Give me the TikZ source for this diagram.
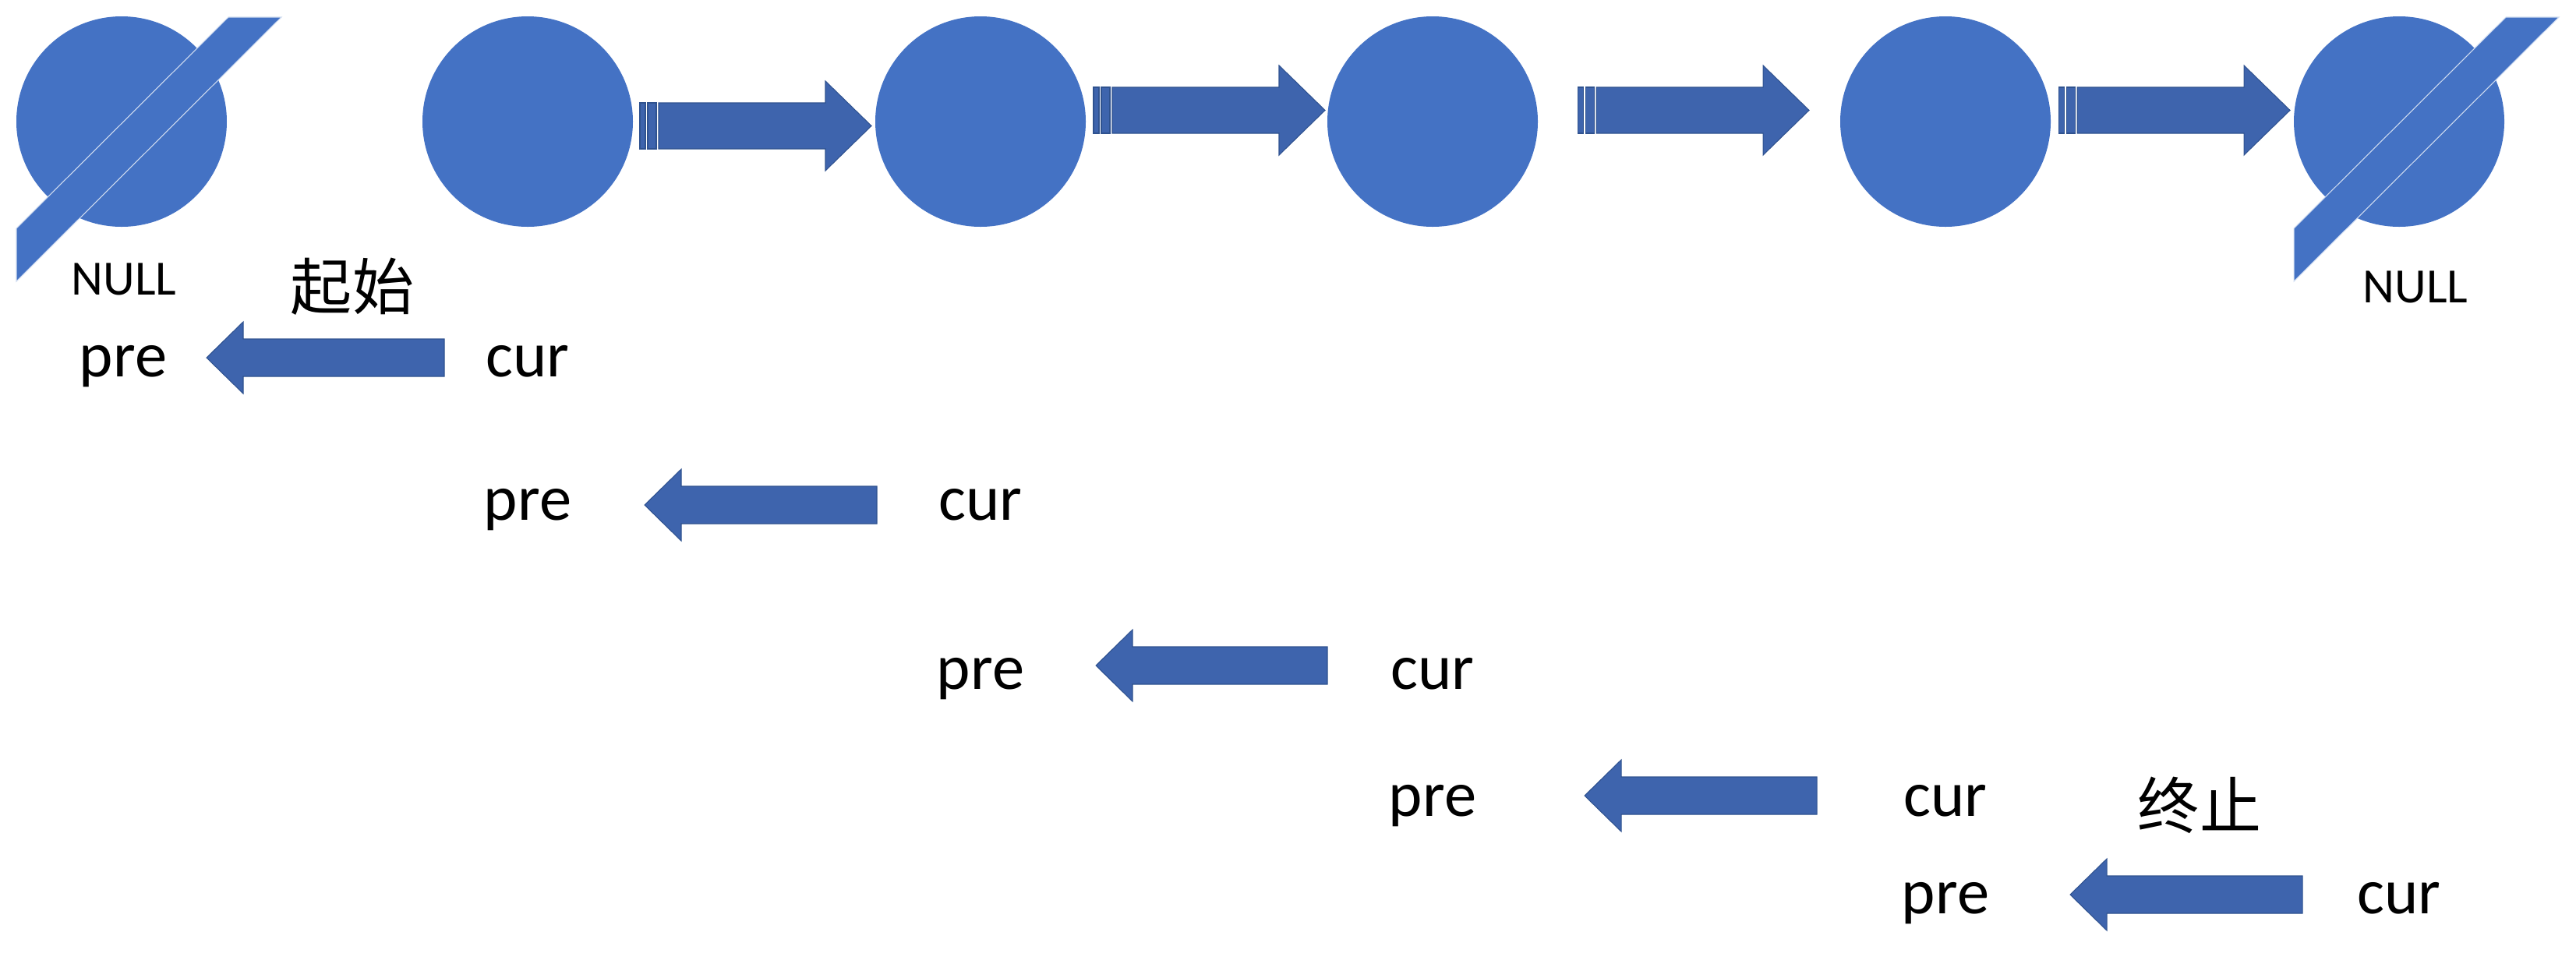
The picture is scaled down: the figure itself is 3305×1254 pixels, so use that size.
\documentclass[tikz,border=0pt]{standalone}
\usepackage{fontspec}
\usepackage{tikz}
\usepackage{xcolor}
\setmainfont{Carlito}
\newfontfamily\cjk{Noto Sans CJK SC}
\definecolor{nodeblue}{RGB}{68,114,196}
\definecolor{arrowblue}{RGB}{62,100,173}
\definecolor{arrowedge}{RGB}{47,82,143}

\begin{document}
\begin{tikzpicture}[x=0.1mm,y=-0.1mm,
    listnode/.style={circle,fill=nodeblue,minimum size=27mm,inner sep=0pt},
    slash/.style={fill=nodeblue,draw=white!75!nodeblue,line width=0.3pt},
    blockarrow/.style={fill=arrowblue,draw=arrowedge,line width=0.3pt,line join=miter},
    ptr/.style={anchor=base,inner sep=0pt,font=\fontsize{23.5}{28}\selectfont},
    nulltext/.style={anchor=base,inner sep=0pt,font=\fontsize{18}{22}\selectfont},
    cntext/.style={anchor=base,inner sep=0pt,font=\cjk\fontsize{22.5}{27}\selectfont}]
    \useasboundingbox (0,0) rectangle (3305,1254);
    % linked list
    \node[listnode] (c1) at (156,156) {};
    \node[listnode] (c2) at (677,156) {};
    \node[listnode] (c3) at (1258,156) {};
    \node[listnode] (c4) at (1838,156) {};
    \node[listnode] (c5) at (2496,156) {};
    \node[listnode] (c6) at (3078,156) {};
    \draw[slash] (293,22) -- (361,22) -- (21,361) -- (21,293) -- cycle;
    \draw[slash] (3215,22) -- (3283,22) -- (2943,361) -- (2943,293) -- cycle;
    \node[nulltext] (null1) at (159,378) {NULL};
    \node[nulltext] (null2) at (3099,388) {NULL};
    % next arrows
    \draw[blockarrow] (821,132) rectangle ++(7,59);
    \draw[blockarrow] (831,132) rectangle ++(11,59);
    \draw[blockarrow] (845,132) -- ++(214,0) -- ++(0,-28) -- ++(59,57.5) -- ++(-59,57.5) -- ++(0,-28) -- ++(-214,0) -- cycle;
    \draw[blockarrow] (1403,112) rectangle ++(7,59);
    \draw[blockarrow] (1413,112) rectangle ++(11,59);
    \draw[blockarrow] (1427,112) -- ++(214,0) -- ++(0,-28) -- ++(59,57.5) -- ++(-59,57.5) -- ++(0,-28) -- ++(-214,0) -- cycle;
    \draw[blockarrow] (2024,112) rectangle ++(7,59);
    \draw[blockarrow] (2034,112) rectangle ++(11,59);
    \draw[blockarrow] (2048,112) -- ++(214,0) -- ++(0,-28) -- ++(59,57.5) -- ++(-59,57.5) -- ++(0,-28) -- ++(-214,0) -- cycle;
    \draw[blockarrow] (2641,112) rectangle ++(7,59);
    \draw[blockarrow] (2651,112) rectangle ++(11,59);
    \draw[blockarrow] (2665,112) -- ++(214,0) -- ++(0,-28) -- ++(59,57.5) -- ++(-59,57.5) -- ++(0,-28) -- ++(-214,0) -- cycle;
    % pre / cur steps
    \node[cntext] (start) at (452,397) {起始};
    \node[ptr] (pre1) at (158,483) {pre};
    \node[ptr] (cur1) at (677,483) {cur};
    \draw[blockarrow] (265,459) -- ++(47,-46) -- ++(0,22) -- ++(258,0) -- ++(0,48) -- ++(-258,0) -- ++(0,22) -- cycle;
    \node[ptr] (pre2) at (677,667) {pre};
    \node[ptr] (cur2) at (1258,667) {cur};
    \draw[blockarrow] (827,648) -- ++(47,-46) -- ++(0,22) -- ++(251,0) -- ++(0,48) -- ++(-251,0) -- ++(0,22) -- cycle;
    \node[ptr] (pre3) at (1258,884) {pre};
    \node[ptr] (cur3) at (1838,884) {cur};
    \draw[blockarrow] (1406,854) -- ++(47,-46) -- ++(0,22) -- ++(250,0) -- ++(0,48) -- ++(-250,0) -- ++(0,22) -- cycle;
    \node[ptr] (pre4) at (1838,1047) {pre};
    \node[ptr] (cur4) at (2496,1047) {cur};
    \draw[blockarrow] (2033,1021) -- ++(47,-46) -- ++(0,22) -- ++(251,0) -- ++(0,48) -- ++(-251,0) -- ++(0,22) -- cycle;
    \node[cntext] (stop) at (2822,1063) {终止};
    \node[ptr] (pre5) at (2496,1172) {pre};
    \node[ptr] (cur5) at (3078,1172) {cur};
    \draw[blockarrow] (2656,1148) -- ++(47,-46) -- ++(0,22) -- ++(251,0) -- ++(0,48) -- ++(-251,0) -- ++(0,22) -- cycle;
\end{tikzpicture}
\end{document}
